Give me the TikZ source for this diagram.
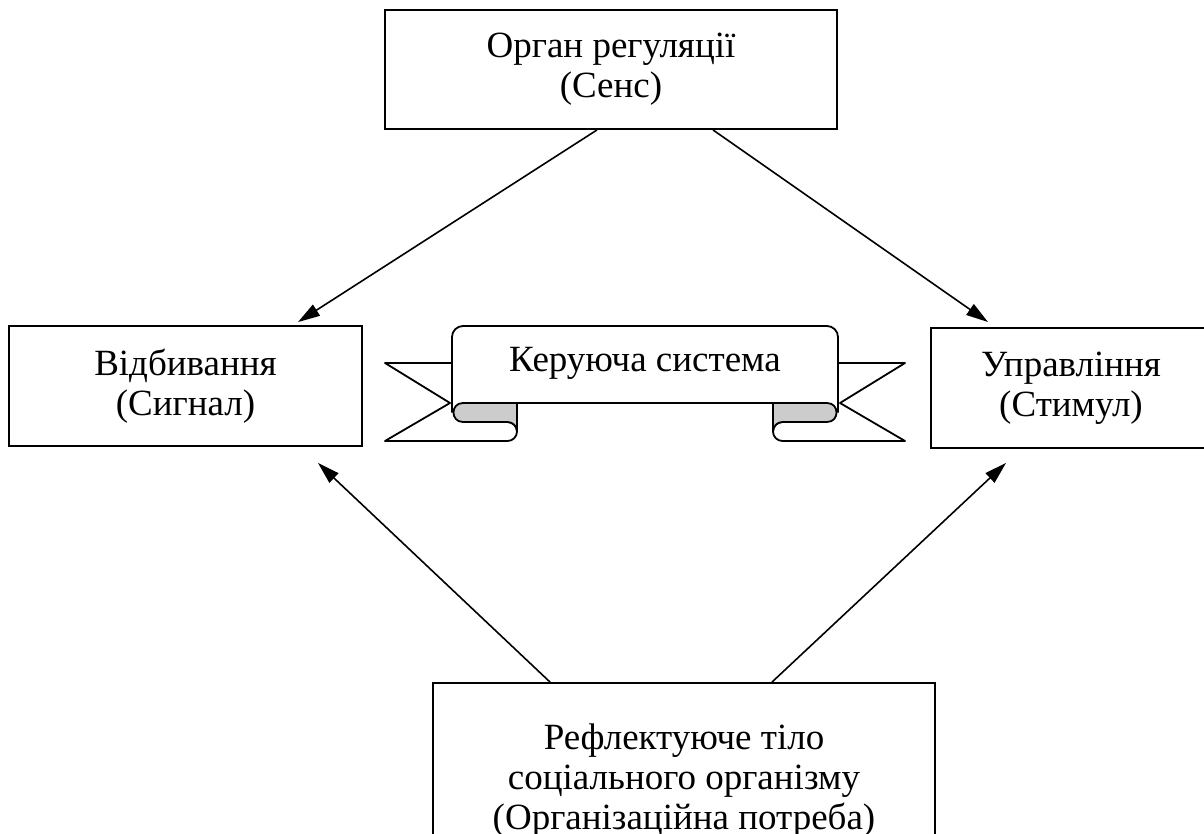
\documentclass[tikz,border=0pt]{standalone}
\usepackage{fontspec}
\setmainfont{Liberation Serif}
\usetikzlibrary{arrows.meta}
\begin{document}
\begin{tikzpicture}[x=1pt,y=-1pt,
  box/.style={draw,line width=1.9pt,align=center,inner sep=0pt},
  link/.style={line width=1.6pt,-{Triangle[length=22pt,width=13pt]}},
  rib/.style={line width=1.8pt,line join=round},
  txt/.style={font=\fontsize{37pt}{40pt}\selectfont}]
\clip (0,0) rectangle (1204,834);
\fill[white] (0,0) rectangle (1204,834);

% boxes
\node[box,txt,minimum width=452pt,minimum height=119pt] (sens) at (611,69.5)
  {Орган регуляції\\(Сенс)};
\node[box,txt,minimum width=353pt,minimum height=120pt] (signal) at (185.5,386)
  {Відбивання\\(Сигнал)};
\node[box,txt,minimum width=280pt,minimum height=120pt] (stimul) at (1071,388)
  {Управління\\(Стимул)};
\node[box,txt,minimum width=502pt,minimum height=196pt] (need) at (684,781)
  {Рефлектуюче тіло\\соціального організму\\(Організаційна потреба)};

% connectors
\draw[link] ([xshift=-14pt]sens.south) -- ([xshift=112.5pt,yshift=3pt]signal.north);
\draw[link] ([xshift=102pt]sens.south) -- ([xshift=-83pt,yshift=5pt]stimul.north);
\draw[link] ([xshift=-134pt]need.north) -- ([xshift=132.5pt,yshift=-16pt]signal.south);
\draw[link] ([xshift=88pt]need.north) -- ([xshift=-65pt,yshift=-14pt]stimul.south);

% ribbon: left tail and lower curl
\fill[white] (452,363) -- (385,363) -- (450,403) -- (385,441) -- (517,441) -- (517,403) -- (452,403) -- cycle;
\draw[rib] (452,363) -- (385,363) -- (450,403) -- (385,441) -- (507.5,441)
  .. controls (512.75,441) and (517,436.75) .. (517,431.5)
  .. controls (517,426.25) and (512.75,422) .. (507.5,422);
% ribbon: right tail and lower curl
\fill[white] (838,363) -- (905,363) -- (840,403) -- (905,441) -- (773,441) -- (773,403) -- (838,403) -- cycle;
\draw[rib] (838,363) -- (905,363) -- (840,403) -- (905,441) -- (782.5,441)
  .. controls (777.25,441) and (773,436.75) .. (773,431.5)
  .. controls (773,426.25) and (777.25,422) .. (782.5,422);
% ribbon: front band
\fill[white] (452,412.5) -- (452,326) -- (838,326) -- (838,412.5) -- cycle;
\draw[rib,rounded corners=11pt] (452,412.5) -- (452,326) -- (838,326) -- (838,412.5);
\draw[rib] (517,403) -- (773,403);
% ribbon: folded undersides
\draw[rib,fill=gray!40] (517,403) -- (463,403)
  .. controls (450.3,403) and (450.3,422) .. (463,422) -- (507.5,422)
  .. controls (512.75,422) and (517,426.25) .. (517,431.5) -- cycle;
\draw[rib,fill=gray!40] (773,403) -- (827,403)
  .. controls (839.7,403) and (839.7,422) .. (827,422) -- (782.5,422)
  .. controls (777.25,422) and (773,426.25) .. (773,431.5) -- cycle;
\node[txt,inner sep=0pt] (ctrl) at (645,363) {Керуюча система};
\end{tikzpicture}
\end{document}
